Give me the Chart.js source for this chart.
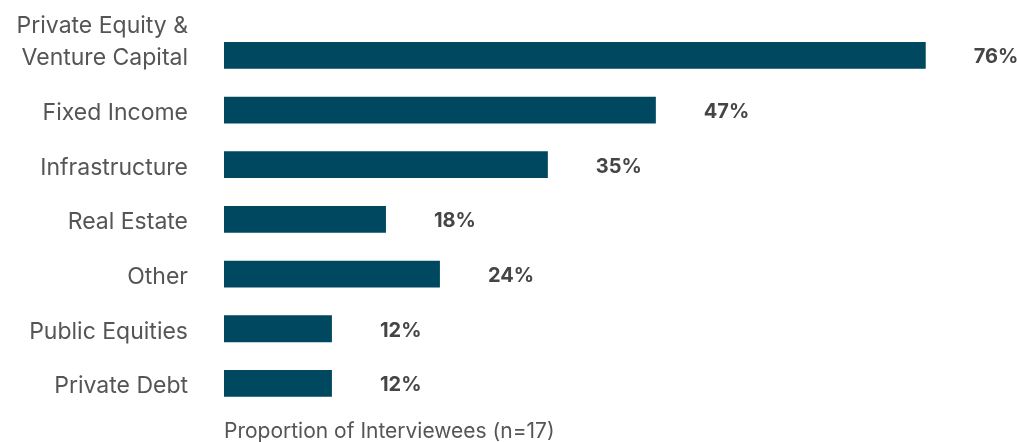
<!DOCTYPE html>
<html>
<head>
<meta charset="utf-8">
<script src="https://cdn.jsdelivr.net/npm/chart.js@4.4.1/dist/chart.umd.min.js"></script>
<style>
  html, body { margin: 0; padding: 0; background: #ffffff; }
  #wrap { width: 1017px; height: 442px; position: relative; }
</style>
</head>
<body>
<div id="wrap"><canvas id="c"></canvas></div>
<script>
// ---- data ----
const categories = [
  ["Private Equity &", "Venture Capital"],
  "Fixed Income",
  "Infrastructure",
  "Real Estate",
  "Other",
  "Public Equities",
  "Private Debt"
];
const values = [76.47, 47.06, 35.29, 17.65, 23.53, 11.76, 11.76];
const valueLabels = ["76%", "47%", "35%", "18%", "24%", "12%", "12%"];
const axisTitle = "Proportion of Interviewees (n=17)";

const FONT = "Inter, 'Noto Sans', Arial, sans-serif";

const valueLabelPlugin = {
  id: 'valueLabels',
  afterDatasetsDraw(chart) {
    const ctx = chart.ctx;
    const meta = chart.getDatasetMeta(0);
    ctx.save();
    ctx.font = "bold 20px " + FONT;
    ctx.fillStyle = "#454545";
    ctx.textAlign = "left";
    ctx.textBaseline = "middle";
    meta.data.forEach((bar, i) => {
      ctx.fillText(valueLabels[i], bar.x + 48, bar.y + 2);
    });
    ctx.restore();
  }
};

new Chart(document.getElementById('c'), {
  type: 'bar',
  data: {
    labels: categories,
    datasets: [{
      data: values,
      backgroundColor: '#00485f',
      borderWidth: 0,
      barPercentage: 0.49,
      categoryPercentage: 1.0
    }]
  },
  options: {
    indexAxis: 'y',
    responsive: true,
    maintainAspectRatio: false,
    animation: false,
    layout: { padding: { top: 28, right: 13, bottom: 0, left: 0 } },
    plugins: {
      legend: { display: false },
      tooltip: { enabled: false }
    },
    scales: {
      x: {
        min: 0,
        max: 85,
        grid: { display: false, drawTicks: false },
        border: { display: false },
        ticks: { display: false },
        title: {
          display: true,
          text: axisTitle,
          align: 'start',
          color: '#555555',
          font: { family: FONT, size: 21 },
          padding: { top: 8, bottom: -2 }
        }
      },
      y: {
        grid: { display: false, drawTicks: false },
        border: { display: false },
        afterFit(scale) {
          scale.width = 224;
          scale.paddingTop = 0;
          scale.paddingBottom = 0;
        },
        ticks: {
          autoSkip: false,
          color: '#555555',
          padding: 36,
          labelOffset: 3,
          font: { family: FONT, size: 23, lineHeight: 1.4 },
          callback(v, i) {
            const l = categories[i];
            return Array.isArray(l) ? l.concat([""]) : l;
          }
        }
      }
    }
  },
  plugins: [valueLabelPlugin]
});
</script>
</body>
</html>
